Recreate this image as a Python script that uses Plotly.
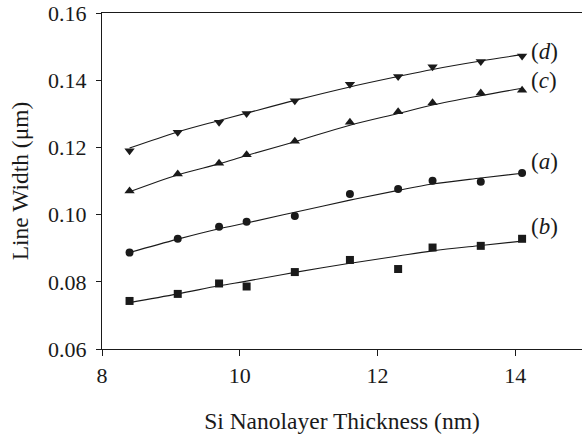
import plotly.graph_objects as go

thickness = [8.4, 9.1, 9.7, 10.1, 10.8, 11.6, 12.3, 12.8, 13.5, 14.1]

a_pts = [0.0887, 0.0928, 0.0964, 0.0979, 0.0996, 0.1061, 0.1076, 0.1101, 0.1098, 0.1124]
b_pts = [0.0743, 0.0764, 0.0795, 0.0786, 0.0829, 0.0865, 0.0838, 0.0902, 0.0907, 0.0928]
c_pts = [0.1070, 0.1121, 0.1153, 0.1178, 0.1218, 0.1275, 0.1306, 0.1333, 0.1362, 0.1370]
d_pts = [0.1190, 0.1245, 0.1275, 0.1301, 0.1339, 0.1388, 0.1411, 0.1440, 0.1456, 0.1472]

a_fit = [0.0887, 0.0927, 0.0958, 0.0975, 0.1007, 0.1043, 0.1072, 0.1091, 0.1109, 0.1123]
b_fit = [0.0738, 0.0764, 0.0788, 0.0802, 0.0828, 0.0855, 0.0877, 0.0892, 0.0908, 0.0921]
c_fit = [0.1068, 0.1118, 0.1151, 0.1176, 0.1217, 0.1266, 0.1301, 0.1326, 0.1354, 0.1376]
d_fit = [0.1198, 0.1246, 0.1280, 0.1302, 0.1340, 0.1380, 0.1411, 0.1432, 0.1457, 0.1476]

labels = ["(<i>a</i>)", "(<i>b</i>)", "(<i>c</i>)", "(<i>d</i>)"]
label_x = [14.42, 14.42, 14.42, 14.42]
label_y = [0.1157, 0.0966, 0.1400, 0.1484]

x_ticks = [8, 10, 12, 14]
y_ticks = [0.06, 0.08, 0.10, 0.12, 0.14, 0.16]

INK = "#1a1a1a"
FONT = "Liberation Serif"

fig = go.Figure()

series = [
    (a_pts, a_fit, "circle", 8),
    (b_pts, b_fit, "square", 8),
    (c_pts, c_fit, "triangle-up", 9),
    (d_pts, d_fit, "triangle-down", 9),
]
for pts, fit, sym, sz in series:
    fig.add_trace(go.Scatter(x=thickness, y=fit, mode="lines",
                             line=dict(color=INK, width=1.1, shape="spline"),
                             showlegend=False, hoverinfo="skip"))
    fig.add_trace(go.Scatter(x=thickness, y=pts, mode="markers",
                             marker=dict(symbol=sym, size=sz, color=INK, line=dict(width=0)),
                             showlegend=False))

for t, lx, ly in zip(labels, label_x, label_y):
    fig.add_annotation(x=lx, y=ly, text=t, showarrow=False, xanchor="center", yanchor="middle",
                       font=dict(family=FONT, size=23, color=INK))

fig.update_layout(
    width=582, height=438,
    margin=dict(l=102, r=0, t=13, b=89),
    paper_bgcolor="white", plot_bgcolor="white",
    font=dict(family=FONT, size=22, color=INK),
    xaxis=dict(range=[8, 14.97], tickvals=x_ticks, ticktext=[str(v) for v in x_ticks],
               showgrid=False, zeroline=False, showline=True, linecolor=INK, linewidth=1.3,
               mirror=True, ticks="outside", ticklen=6, tickwidth=1.2, tickcolor=INK,
               title=dict(text="Si Nanolayer Thickness (nm)", standoff=26,
                          font=dict(family=FONT, size=23.5, color=INK)),
               tickfont=dict(family=FONT, size=22, color=INK)),
    yaxis=dict(range=[0.06, 0.16], tickvals=y_ticks, ticktext=[f"{v:.2f}" for v in y_ticks],
               showgrid=False, zeroline=False, showline=True, linecolor=INK, linewidth=1.3,
               ticks="outside", ticklen=5, tickwidth=1.2, tickcolor=INK, ticklabelstandoff=5,
               title=dict(text="Line Width (μm)", standoff=12,
                          font=dict(family=FONT, size=23.5, color=INK)),
               tickfont=dict(family=FONT, size=22, color=INK)),
)

fig.write_html("out.html")
